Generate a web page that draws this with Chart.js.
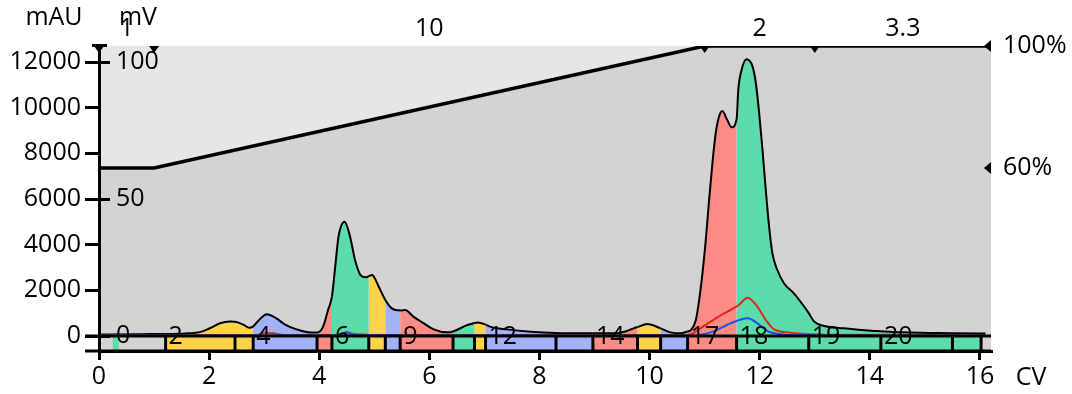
<!DOCTYPE html>
<html>
<head>
<meta charset="utf-8">
<script src="https://cdn.jsdelivr.net/npm/chart.js@4"></script>
<style>
  html, body { margin: 0; background: #fff; }
  canvas { display: block; }
</style>
</head>
<body>
<canvas id="chart" width="1072" height="394" style="width:1072px;height:394px"></canvas>
<script>
// UV trace (mAU) against column volumes
const uvX = [0, 0.25, 0.36, 0.75, 1.21, 1.56, 1.85, 2.02, 2.2, 2.38, 2.47, 2.62, 2.73, 2.8, 2.89, 3.05, 3.2, 3.38, 3.6, 3.85,
  3.96, 4.07, 4.16, 4.23, 4.29, 4.35, 4.46, 4.56, 4.65, 4.75, 4.85, 4.9, 4.96, 5.08, 5.2, 5.32, 5.47, 5.56, 5.71, 5.9,
  6.08, 6.32, 6.43, 6.69, 6.82, 6.88, 7.02, 7.11, 7.41, 7.84, 8.3, 8.75, 8.97, 9.35, 9.56, 9.71, 9.78, 9.96, 10.2, 10.38,
  10.56, 10.69, 10.75, 10.84, 10.9, 10.96, 11.02, 11.08, 11.14, 11.2, 11.26, 11.32, 11.41, 11.49, 11.58, 11.61, 11.67, 11.76, 11.87, 11.93,
  11.99, 12.05, 12.11, 12.17, 12.23, 12.32, 12.44, 12.62, 12.81, 12.89, 12.99, 13.17, 13.53, 14.02, 14.2, 14.62, 15.23, 15.5, 16.02, 16.1];
const uvY = [60, 70, 70, 80, 90, 110, 180, 350, 560, 630, 620, 500, 360, 420, 660, 950, 800, 500, 280, 150,
  150, 410, 1140, 1720, 3030, 4350, 5000, 4350, 3330, 2670, 2570, 2620, 2670, 2160, 1580, 1210, 1120, 1140, 850, 555,
  290, 160, 200, 480, 570, 590, 500, 400, 290, 190, 130, 115, 115, 115, 200, 335, 390, 525, 335, 160,
  115, 200, 260, 700, 1580, 2750, 4200, 5950, 7560, 8880, 9600, 9850, 9460, 9140, 9500, 10770, 11650, 12120, 11800, 11070,
  9750, 8150, 6390, 4790, 3620, 2890, 2310, 1870, 1280, 1000, 630, 440, 335, 230, 210, 160, 130, 120, 110, 110];

// second and third detector traces
const redX = [0, 2.85, 3.0, 3.15, 3.4, 4.3, 4.45, 4.7, 5.0, 10.6, 10.75, 10.93, 11.11, 11.29, 11.47, 11.62, 11.78, 11.96, 12.11, 12.26, 12.56, 12.93, 13.5, 16.1];
const redY = [30, 30, 140, 120, 40, 40, 120, 80, 40, 40, 80, 350, 630, 900, 1140, 1360, 1680, 1280, 700, 290, 145, 80, 50, 40];
const blueX = [0, 4.35, 4.5, 4.65, 10.7, 10.93, 11.15, 11.47, 11.78, 12.0, 12.16, 12.35, 12.7, 16.1];
const blueY = [20, 20, 170, 30, 20, 60, 190, 555, 775, 480, 190, 90, 30, 20];

// gradient (%B)
const gradX = [0, 1, 11, 16.2];
const gradY = [60, 60, 100, 100];
const gradBreaks = [0, 1, 11, 13, 16.2];
const gradSegLabels = ['1', '10', '2', '3.3'];

// fractions
const GREEN = '#5cdcab', YELLOW = '#fed34a', BLUE = '#a2b2f8', RED = '#fa8c85';
const fracStart = [0.25, 1.21, 2.47, 2.8, 3.96, 4.23, 4.9, 5.2, 5.47, 6.43, 6.82, 7.02, 8.3, 8.97, 9.78, 10.2, 10.69, 11.58, 12.89, 14.2, 15.5];
const fracEnd = [0.36, 2.47, 2.8, 3.96, 4.23, 4.9, 5.2, 5.47, 6.43, 6.82, 7.02, 8.3, 8.97, 9.78, 10.2, 10.69, 11.58, 12.89, 14.2, 15.5, 16.02];
const fracColor = [GREEN, YELLOW, YELLOW, BLUE, RED, GREEN, YELLOW, BLUE, RED, GREEN, YELLOW, BLUE, BLUE, RED, YELLOW, BLUE, RED, GREEN, GREEN, GREEN, GREEN];
const fracLabel = ['', '2', '', '4', '', '6', '', '', '9', '', '', '12', '', '14', '', '', '17', '18', '19', '20', ''];

// tick labels
const xTicks = [0, 2, 4, 6, 8, 10, 12, 14, 16];
const mauTicks = [0, 2000, 4000, 6000, 8000, 10000, 12000];
const mvTicks = [0, 50, 100];
const pctTicks = [60, 100];

const pts = (xs, ys) => xs.map((x, i) => ({x: x, y: ys[i]}));

function fracColorAt(v) {
  for (let i = 0; i < fracStart.length; i++) {
    if (v >= fracStart[i] && v <= fracEnd[i]) return fracColor[i];
  }
  return 'rgba(0,0,0,0)';
}

function tri(ctx, x, y, dir) {
  ctx.beginPath();
  if (dir === 'down') {
    ctx.moveTo(x - 5, y); ctx.lineTo(x + 5, y); ctx.lineTo(x, y + 7);
  } else {
    ctx.moveTo(x, y - 6); ctx.lineTo(x, y + 6); ctx.lineTo(x - 7, y);
  }
  ctx.closePath();
  ctx.fill();
}

const decor = {
  id: 'decor',
  beforeDraw(chart) {
    const {ctx, chartArea: a} = chart;
    ctx.save();
    ctx.fillStyle = '#e6e6e6';
    ctx.fillRect(a.left, a.top, a.right - a.left, a.bottom - a.top);
    ctx.restore();
  },
  afterDatasetsDraw(chart) {
    const {ctx, chartArea: a, scales} = chart;
    const x = scales.x, y = scales.y, pct = scales.pct;
    const y0 = y.getPixelForValue(0);
    ctx.save();

    // fraction row
    fracStart.forEach((s, i) => {
      const l = x.getPixelForValue(s), r = x.getPixelForValue(fracEnd[i]);
      ctx.fillStyle = fracColor[i];
      ctx.fillRect(l, y0, r - l, a.bottom - y0);
    });
    ctx.strokeStyle = '#000';
    ctx.lineWidth = 3;
    ctx.beginPath();
    ctx.moveTo(a.left - 14, y0); ctx.lineTo(a.right, y0);
    ctx.moveTo(a.left - 14, a.bottom); ctx.lineTo(a.right, a.bottom);
    fracStart.forEach((s, i) => {
      if (!i) return;
      const p = x.getPixelForValue(s);
      ctx.moveTo(p, y0); ctx.lineTo(p, a.bottom);
    });
    const pe = x.getPixelForValue(fracEnd[fracEnd.length - 1]);
    ctx.moveTo(pe, y0); ctx.lineTo(pe, a.bottom);
    ctx.stroke();

    ctx.fillStyle = '#000';
    ctx.font = '25px "Open Sans"';
    ctx.textBaseline = 'middle';
    ctx.textAlign = 'left';
    fracLabel.forEach((t, i) => {
      if (t) ctx.fillText(t, x.getPixelForValue(fracStart[i]) + 3, y0 + 1);
    });

    // gradient segment markers and lengths
    ctx.fillRect(a.left - 7, a.top - 2, 15, 3);
    gradBreaks.slice(0, -1).forEach(b => tri(ctx, x.getPixelForValue(b), a.top, 'down'));
    pctTicks.forEach(v => tri(ctx, a.right, pct.getPixelForValue(v), 'left'));
    ctx.textAlign = 'center';
    gradSegLabels.forEach((t, i) => {
      ctx.fillText(t, x.getPixelForValue((gradBreaks[i] + gradBreaks[i + 1]) / 2), 29);
    });

    // axis titles
    ctx.fillText('mAU', 54, 18);
    ctx.fillText('mV', 138, 18);
    ctx.fillText('CV', 1031, 378);
    ctx.restore();
  }
};

Chart.defaults.font.family = '"Open Sans", "Noto Sans", sans-serif';
Chart.defaults.font.size = 25;
Chart.defaults.color = '#000';

new Chart(document.getElementById('chart').getContext('2d'), {
  type: 'line',
  data: {
    datasets: [{
      label: 'blue',
      data: pts(blueX, blueY),
      yAxisID: 'y',
      borderColor: '#1f4fe8',
      borderWidth: 2,
      pointRadius: 0,
      cubicInterpolationMode: 'monotone',
      fill: false,
      order: 0
    }, {
      label: 'red',
      data: pts(redX, redY),
      yAxisID: 'y',
      borderColor: '#e0261c',
      borderWidth: 2,
      pointRadius: 0,
      cubicInterpolationMode: 'monotone',
      fill: false,
      order: 1
    }, {
      label: 'UV',
      data: pts(uvX, uvY),
      yAxisID: 'y',
      borderColor: '#000',
      borderWidth: 2,
      pointRadius: 0,
      cubicInterpolationMode: 'monotone',
      fill: 'origin',
      backgroundColor: 'rgba(0,0,0,0)',
      segment: {
        backgroundColor: c => fracColorAt((c.p0.parsed.x + c.p1.parsed.x) / 2)
      },
      order: 2
    }, {
      label: 'gradient',
      data: pts(gradX, gradY),
      yAxisID: 'pct',
      borderColor: '#000',
      borderWidth: 3.5,
      pointRadius: 0,
      tension: 0,
      fill: 'start',
      backgroundColor: '#d3d3d3',
      order: 3
    }]
  },
  options: {
    responsive: false,
    animation: false,
    devicePixelRatio: 1,
    layout: {padding: {top: 46, left: 0, right: 0, bottom: 0}},
    plugins: {legend: {display: false}, tooltip: {enabled: false}},
    scales: {
      x: {
        type: 'linear',
        min: 0,
        max: 16.2,
        afterBuildTicks: s => { s.ticks = xTicks.map(v => ({value: v})); },
        afterFit: s => { s.height = 43; },
        grid: {drawOnChartArea: false, tickLength: 9, color: '#000', lineWidth: 3},
        border: {color: '#000', width: 3, z: 1},
        ticks: {padding: 2, maxRotation: 0, autoSkip: false, callback: v => String(v)}
      },
      y: {
        position: 'left',
        weight: 1,
        min: -657,
        max: 12702,
        afterBuildTicks: s => { s.ticks = mauTicks.map(v => ({value: v})); },
        afterFit: s => { s.width = 99; },
        grid: {drawOnChartArea: false, tickLength: 14, color: '#000', lineWidth: 3},
        border: {color: '#000', width: 3, z: 1},
        ticks: {padding: 4, callback: v => String(v)}
      },
      mv: {
        position: 'left',
        weight: 0,
        min: -657 / 120,
        max: 12702 / 120,
        afterBuildTicks: s => { s.ticks = mvTicks.map(v => ({value: v})); },
        afterFit: s => { s.width = 0; },
        grid: {drawOnChartArea: false, tickLength: -11, color: '#000', lineWidth: 3, z: 1},
        border: {display: false},
        ticks: {mirror: true, padding: 17, z: 1, callback: v => String(v)}
      },
      pct: {
        position: 'right',
        min: 0,
        max: 100,
        afterBuildTicks: s => { s.ticks = pctTicks.map(v => ({value: v})); },
        afterFit: s => { s.width = 81; },
        grid: {display: false, drawTicks: false},
        border: {display: false},
        ticks: {padding: 12, callback: v => v + '%'}
      }
    }
  },
  plugins: [decor]
});
</script>
</body>
</html>
